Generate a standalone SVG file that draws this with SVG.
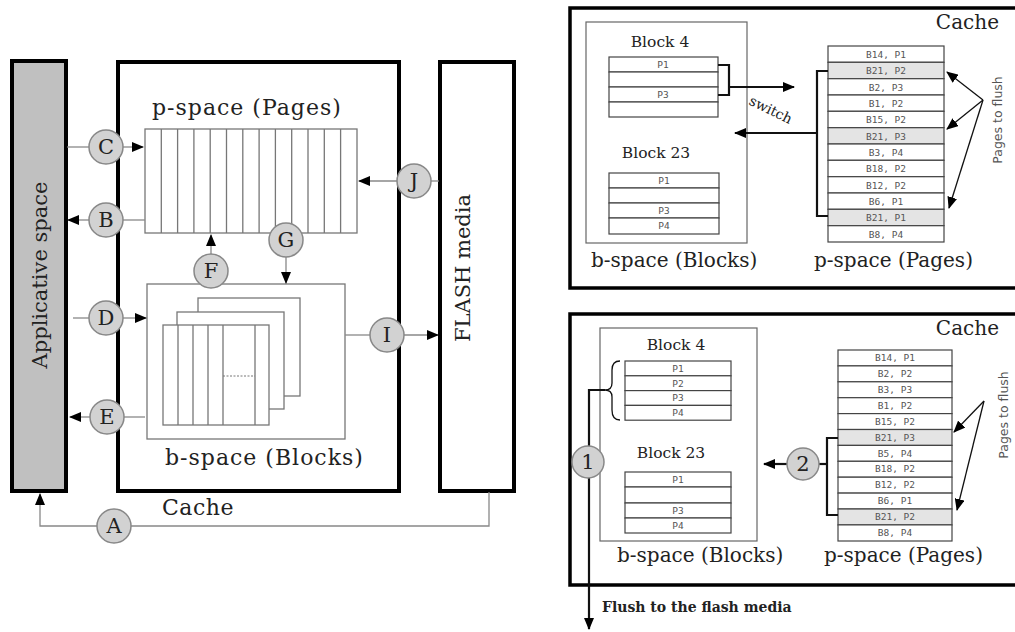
<svg xmlns="http://www.w3.org/2000/svg" width="1015" height="632" viewBox="0 0 1015 632">
<style>
.thick{fill:none;stroke:#000;stroke-width:4}
.g{fill:none;stroke:#888;stroke-width:1.3}
.gw{fill:#fff;stroke:#777;stroke-width:1.3}
.k{fill:none;stroke:#111;stroke-width:1.3}
.k2{fill:none;stroke:#111;stroke-width:2.2}
.circ{fill:#d2d2d2;stroke:#888;stroke-width:1.5}
.cl{font-family:"DejaVu Serif","Liberation Serif",serif;font-size:21px;fill:#222;text-anchor:middle}
.lbl{font-family:"DejaVu Serif","Liberation Serif",serif;fill:#222}
.blk{font-family:"DejaVu Serif","Liberation Serif",serif;font-size:15.5px;fill:#222;text-anchor:middle}
.row{fill:#fff;stroke:#444;stroke-width:1.2}
.rowg{fill:#e4e4e4;stroke:#444;stroke-width:1.2}
.mono{font-family:"DejaVu Sans Mono","Liberation Mono",monospace;font-size:9.5px;fill:#555;text-anchor:middle}
.sans{font-family:"DejaVu Sans","Liberation Sans",sans-serif;font-size:12.5px;fill:#555}
</style>
<defs>
<marker id="ah" markerWidth="12" markerHeight="10" refX="11" refY="5" orient="auto" markerUnits="userSpaceOnUse">
<path d="M0,0 L12,5 L0,10 z" fill="#000"/>
</marker>
</defs>
<rect width="1015" height="632" fill="#fff"/>

<!-- LEFT DIAGRAM -->
<g id="applicative">
<rect x="12" y="61" width="54" height="430" class="thick" style="fill:#c0c0c0"/>
<text class="lbl" font-size="21" transform="translate(47,275) rotate(-90)" text-anchor="middle">Applicative space</text>
</g>
<g id="cache">
<rect x="118" y="62" width="281" height="429" class="thick"/>
<text class="lbl" font-size="22" letter-spacing="0.5" x="162" y="515">Cache</text>
</g>
<g id="flash">
<rect x="440" y="62" width="74" height="429" class="thick"/>
<text class="lbl" font-size="21" fill="#302040" transform="translate(470,268) rotate(-90)" text-anchor="middle">FLASH media</text>
</g>
<g id="pspace">
<text class="lbl" font-size="22" letter-spacing="1" x="152" y="115">p-space (Pages)</text>
<rect x="145" y="129" width="212" height="104" class="g" style="stroke:#777"/>
<path class="g" style="stroke:#777" d="M161.3,129V233M177.6,129V233M193.9,129V233M210.2,129V233M226.5,129V233M242.8,129V233M259.1,129V233M275.4,129V233M291.7,129V233M308,129V233M324.3,129V233M340.6,129V233"/>
</g>
<g id="bspace">
<rect x="147" y="284" width="198" height="155" class="g" style="stroke:#777"/>
<rect x="198" y="298" width="102" height="98" class="gw"/>
<rect x="177" y="312" width="107" height="97" class="gw"/>
<rect x="163" y="325" width="106" height="100" class="gw"/>
<path class="g" style="stroke:#777" d="M178,325V425M193,325V425M208,325V425M223,325V425M255,325V425"/>
<line x1="223" y1="376" x2="255" y2="376" stroke="#777" stroke-width="1" stroke-dasharray="2,1.5"/>
<text class="lbl" font-size="22" letter-spacing="1" x="165" y="465">b-space (Blocks)</text>
</g>
<g id="connectors-left">
<path class="g" d="M67,147H89"/><path class="g" d="M123,147H143" marker-end="url(#ah)"/>
<path class="g" d="M145,220H123"/><path class="g" d="M89,220H68" marker-end="url(#ah)"/>
<path class="g" d="M211,255V235" marker-end="url(#ah)"/>
<path class="g" d="M286,257V283" marker-end="url(#ah)"/>
<path class="g" d="M439,181H431"/><path class="g" d="M397,181H359" marker-end="url(#ah)"/>
<path class="g" d="M73,318H89"/><path class="g" d="M123,318H146" marker-end="url(#ah)"/>
<path class="g" d="M145,417H124"/><path class="g" d="M90,417H70" marker-end="url(#ah)"/>
<path class="g" d="M345,335H370"/><path class="g" d="M404,335H438" marker-end="url(#ah)"/>
<path class="g" d="M489,492V526H131"/><path class="g" d="M97,526H40V494" marker-end="url(#ah)"/>
</g>
<g id="node-C"><circle class="circ" cx="106" cy="147" r="17"/><text class="cl" x="106" y="154">C</text></g>
<g id="node-B"><circle class="circ" cx="106" cy="220" r="17"/><text class="cl" x="106" y="227">B</text></g>
<g id="node-F"><circle class="circ" cx="211" cy="271" r="17"/><text class="cl" x="211" y="278">F</text></g>
<g id="node-G"><circle class="circ" cx="286" cy="240" r="17"/><text class="cl" x="286" y="247">G</text></g>
<g id="node-J"><circle class="circ" cx="414" cy="181" r="17"/><text class="cl" x="414" y="188">J</text></g>
<g id="node-D"><circle class="circ" cx="106" cy="318" r="17"/><text class="cl" x="106" y="325">D</text></g>
<g id="node-E"><circle class="circ" cx="107" cy="417" r="17"/><text class="cl" x="107" y="424">E</text></g>
<g id="node-I"><circle class="circ" cx="387" cy="335" r="17"/><text class="cl" x="387" y="342">I</text></g>
<g id="node-A"><circle class="circ" cx="114" cy="526" r="17"/><text class="cl" x="114" y="533">A</text></g>

<!-- RIGHT TOP PANEL -->
<g id="panel-top">
<rect x="570" y="8" width="460" height="280" class="thick" style="stroke-width:3.5"/>
<text class="lbl" font-size="20" x="999" y="29" text-anchor="end">Cache</text>
<rect x="586" y="22" width="161" height="221" fill="none" stroke="#666" stroke-width="1.2"/>
<text class="blk" x="660" y="47">Block 4</text>
<rect class="row" x="609" y="57" width="109" height="15"/><rect class="row" x="609" y="72" width="109" height="15"/>
<rect class="row" x="609" y="87" width="109" height="15"/><rect class="row" x="609" y="102" width="109" height="15"/>
<text class="mono" x="663" y="68">P1</text><text class="mono" x="663" y="98">P3</text>
<text class="blk" x="656" y="158">Block 23</text>
<rect class="row" x="609" y="173" width="110" height="15"/><rect class="row" x="609" y="188" width="110" height="15"/>
<rect class="row" x="609" y="203" width="110" height="15"/><rect class="row" x="609" y="218" width="110" height="16"/>
<text class="mono" x="664" y="184">P1</text><text class="mono" x="664" y="214">P3</text><text class="mono" x="664" y="229">P4</text>
<text class="lbl" font-size="20" x="591" y="267">b-space (Blocks)</text>
<g>
<rect class="row" x="828" y="46" width="116" height="16.3"/><rect class="rowg" x="828" y="62.3" width="116" height="16.3"/>
<rect class="row" x="828" y="78.7" width="116" height="16.3"/><rect class="row" x="828" y="95" width="116" height="16.3"/>
<rect class="row" x="828" y="111.3" width="116" height="16.3"/><rect class="rowg" x="828" y="127.7" width="116" height="16.3"/>
<rect class="row" x="828" y="144" width="116" height="16.3"/><rect class="row" x="828" y="160.3" width="116" height="16.3"/>
<rect class="row" x="828" y="176.7" width="116" height="16.3"/><rect class="row" x="828" y="193" width="116" height="16.3"/>
<rect class="rowg" x="828" y="209.3" width="116" height="16.3"/><rect class="row" x="828" y="225.7" width="116" height="16.3"/>
<text class="mono" x="886" y="58">B14, P1</text><text class="mono" x="886" y="74">B21, P2</text>
<text class="mono" x="886" y="91">B2, P3</text><text class="mono" x="886" y="107">B1, P2</text>
<text class="mono" x="886" y="123">B15, P2</text><text class="mono" x="886" y="140">B21, P3</text>
<text class="mono" x="886" y="156">B3, P4</text><text class="mono" x="886" y="172">B18, P2</text>
<text class="mono" x="886" y="189">B12, P2</text><text class="mono" x="886" y="205">B6, P1</text>
<text class="mono" x="886" y="221">B21, P1</text><text class="mono" x="886" y="238">B8, P4</text>
</g>
<text class="lbl" font-size="20" x="814" y="267">p-space (Pages)</text>
<text class="sans" transform="translate(1002,120) rotate(-90)" text-anchor="middle">Pages to flush</text>
<text class="lbl" font-size="14" transform="translate(748,104) rotate(26)">switch</text>
</g>
<g id="connectors-top">
<path class="k2" d="M718,65H729V95H718"/>
<path class="k2" d="M729,87H794" marker-end="url(#ah)"/>
<path class="k2" d="M828,71H817V216H828"/>
<path class="k2" d="M817,133H735" marker-end="url(#ah)"/>
<path class="k" d="M983,100L947,72" marker-end="url(#ah)"/>
<path class="k" d="M983,100L947,129" marker-end="url(#ah)"/>
<path class="k" d="M983,100L949,208" marker-end="url(#ah)"/>
</g>

<!-- RIGHT BOTTOM PANEL -->
<g id="panel-bottom">
<rect x="570" y="314" width="460" height="271" class="thick" style="stroke-width:3.5"/>
<text class="lbl" font-size="20" x="999" y="335" text-anchor="end">Cache</text>
<rect x="600" y="328" width="157" height="213" fill="none" stroke="#666" stroke-width="1.2"/>
<text class="blk" x="676" y="350">Block 4</text>
<rect class="row" x="625" y="361" width="106" height="14.8"/><rect class="row" x="625" y="375.8" width="106" height="14.8"/>
<rect class="row" x="625" y="390.6" width="106" height="14.8"/><rect class="row" x="625" y="405.4" width="106" height="14.8"/>
<text class="mono" x="678" y="372">P1</text><text class="mono" x="678" y="387">P2</text>
<text class="mono" x="678" y="401">P3</text><text class="mono" x="678" y="416">P4</text>
<text class="blk" x="671" y="458">Block 23</text>
<rect class="row" x="625" y="472" width="106" height="15"/><rect class="row" x="625" y="487" width="106" height="16"/>
<rect class="row" x="625" y="503" width="106" height="15"/><rect class="row" x="625" y="518" width="106" height="15"/>
<text class="mono" x="678" y="483">P1</text><text class="mono" x="678" y="514">P3</text><text class="mono" x="678" y="529">P4</text>
<text class="lbl" font-size="20" x="617" y="562">b-space (Blocks)</text>
<g>
<rect class="row" x="838" y="350" width="114" height="15.9"/><rect class="row" x="838" y="365.9" width="114" height="15.9"/>
<rect class="row" x="838" y="381.8" width="114" height="15.9"/><rect class="row" x="838" y="397.7" width="114" height="15.9"/>
<rect class="row" x="838" y="413.6" width="114" height="15.9"/><rect class="rowg" x="838" y="429.5" width="114" height="15.9"/>
<rect class="row" x="838" y="445.4" width="114" height="15.9"/><rect class="row" x="838" y="461.3" width="114" height="15.9"/>
<rect class="row" x="838" y="477.2" width="114" height="15.9"/><rect class="row" x="838" y="493.1" width="114" height="15.9"/>
<rect class="rowg" x="838" y="509" width="114" height="15.9"/><rect class="row" x="838" y="524.9" width="114" height="16.1"/>
<text class="mono" x="895" y="361">B14, P1</text><text class="mono" x="895" y="377">B2, P2</text>
<text class="mono" x="895" y="393">B3, P3</text><text class="mono" x="895" y="409">B1, P2</text>
<text class="mono" x="895" y="425">B15, P2</text><text class="mono" x="895" y="441">B21, P3</text>
<text class="mono" x="895" y="457">B5, P4</text><text class="mono" x="895" y="472">B18, P2</text>
<text class="mono" x="895" y="488">B12, P2</text><text class="mono" x="895" y="504">B6, P1</text>
<text class="mono" x="895" y="520">B21, P2</text><text class="mono" x="895" y="536">B8, P4</text>
</g>
<text class="lbl" font-size="20" x="824" y="562">p-space (Pages)</text>
<text class="sans" transform="translate(1008,415) rotate(-90)" text-anchor="middle">Pages to flush</text>
<text class="lbl" font-size="14" font-weight="bold" x="602" y="612">Flush to the flash media</text>
</g>
<g id="connectors-bottom">
<path class="k" d="M620,361Q612,361 612,370V383Q612,390 605,390Q612,390 612,397V410Q612,420 620,420"/>
<path class="k2" d="M605,390H589V629" marker-end="url(#ah)"/>
<path class="k2" d="M838,438H827V515H838"/>
<path class="k2" d="M827,464H819"/>
<path class="k2" d="M787,464H764" marker-end="url(#ah)"/>
<path class="k" d="M984,401L954,432" marker-end="url(#ah)"/>
<path class="k" d="M984,401L957,510" marker-end="url(#ah)"/>
</g>
<g id="node-1"><circle class="circ" cx="588" cy="462" r="16"/><text class="cl" font-size="19" x="588" y="469">1</text></g>
<g id="node-2"><circle class="circ" cx="803" cy="464" r="16"/><text class="cl" font-size="19" x="803" y="471">2</text></g>
</svg>
